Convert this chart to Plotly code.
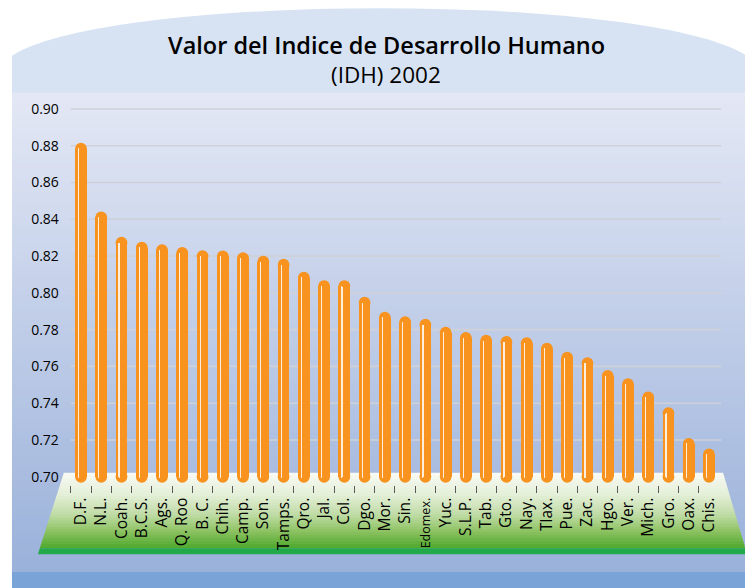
import plotly.graph_objects as go

# ---------------- data ----------------
categories = ["D.F.", "N.L.", "Coah.", "B.C.S.", "Ags.", "Q. Roo", "B. C.", "Chih.",
              "Camp.", "Son.", "Tamps.", "Qro.", "Jal.", "Col.", "Dgo.", "Mor.",
              "Sin.", "Edomex.", "Yuc.", "S.L.P.", "Tab.", "Gto.", "Nay.", "Tlax.",
              "Pue.", "Zac.", "Hgo.", "Ver.", "Mich.", "Gro.", "Oax.", "Chis."]
idh_values = [0.8816, 0.8442, 0.8305, 0.8278, 0.8264, 0.8249, 0.8232, 0.8230,
              0.8221, 0.8201, 0.8185, 0.8114, 0.8069, 0.8069, 0.7978, 0.7897,
              0.7873, 0.7859, 0.7816, 0.7787, 0.7772, 0.7765, 0.7758, 0.7729,
              0.7679, 0.7650, 0.7580, 0.7535, 0.7463, 0.7378, 0.7211, 0.7153]
y_ticks = [0.70, 0.72, 0.74, 0.76, 0.78, 0.80, 0.82, 0.84, 0.86, 0.88, 0.90]
title_main = "Valor del Indice de Desarrollo Humano"
title_sub = "(IDH) 2002"

# ---------------- geometry / style ----------------
W, H = 745, 588
FONT = "Open Sans"
ORANGE = "#f7931e"
Y_RANGE = [0.69568, 0.90362]
X_RANGE = [-0.5, len(categories) - 0.5]
PLOT_TOP, PLOT_BOTTOM = 100, 485
UNITS_PER_PX = (Y_RANGE[1] - Y_RANGE[0]) / (PLOT_BOTTOM - PLOT_TOP)
BAR_W = 0.58
CAT_PX = 650 / len(categories)
CAP_D = BAR_W * CAT_PX            # capsule diameter in px
CAP_R = CAP_D / 2 * UNITS_PER_PX  # capsule radius in y units
CAPSULE_BOTTOM = 0.6968


def X(px):
    return px / W


def Y(py):
    return 1 - py / H


def hex2rgb(h):
    h = h.lstrip("#")
    return [int(h[i:i + 2], 16) for i in (0, 2, 4)]


def interp(stops, t):
    for (t0, c0), (t1, c1) in zip(stops[:-1], stops[1:]):
        if t0 <= t <= t1:
            f = 0 if t1 == t0 else (t - t0) / (t1 - t0)
            a, b = hex2rgb(c0), hex2rgb(c1)
            return "rgb(%d,%d,%d)" % tuple(round(a[i] + (b[i] - a[i]) * f) for i in range(3))
    return stops[-1][1]


shapes = []

# title panel with arched top
path = "M %f,%f C %f,%f %f,%f %f,%f L %f,%f L %f,%f Z" % (
    X(10), Y(53), X(110), Y(-10), X(640), Y(-11), X(745), Y(52), X(745), Y(91), X(10), Y(91))
shapes.append(dict(type="path", xref="paper", yref="paper", path=path,
                   fillcolor="#d7e3f3", line=dict(width=0), layer="below"))

# gradient panel background
bg_stops = [(90, "#e4e8f5"), (573, "#9ab1da")]
y0 = 90
step = 6
while y0 < 573:
    y1 = min(y0 + step, 573)
    col = interp(bg_stops, (y0 + y1) / 2)
    shapes.append(dict(type="rect", xref="paper", yref="paper",
                       x0=X(10), x1=X(746), y0=Y(y0), y1=Y(min(y1 + 1, 573)),
                       fillcolor=col, line=dict(width=0), layer="below"))
    y0 = y1
shapes.append(dict(type="rect", xref="paper", yref="paper",
                   x0=X(10), x1=X(746), y0=Y(573), y1=Y(589),
                   fillcolor="#7aa4d7", line=dict(width=0), layer="below"))

# grid lines (drawn through the y axis scale)
for v in y_ticks[1:]:
    shapes.append(dict(type="line", xref="paper", yref="y",
                       x0=X(69), x1=X(721), y0=v, y1=v,
                       line=dict(color="#cfd1d8", width=1.6), layer="below"))

# floor (trapezoid with green vertical gradient)
ft = 473


def xl(py):
    return 62 - (py - ft) * (26 / 82)


def xr(py):
    return 723 + (py - ft) * (22 / 75)


floor_stops = [(473, "#f8faf4"), (495, "#e4efd8"), (515, "#c0dca6"),
               (532, "#8cc262"), (549, "#4ea82c")]
y0 = ft
step = 3
while y0 < 549:
    y1 = min(y0 + step, 549)
    y1e = min(y1 + 0.8, 549)
    col = interp(floor_stops, (y0 + y1) / 2)
    p = "M %f,%f L %f,%f L %f,%f L %f,%f Z" % (
        X(xl(y0)), Y(y0), X(xr(y0)), Y(y0), X(xr(y1e)), Y(y1e), X(xl(y1e)), Y(y1e))
    shapes.append(dict(type="path", xref="paper", yref="paper", path=p,
                       fillcolor=col, line=dict(width=0), layer="below"))
    y0 = y1
p = "M %f,%f L %f,%f L %f,%f L %f,%f Z" % (
    X(xl(549)), Y(549), X(xr(549)), Y(549), X(xr(555)), Y(555), X(xl(555)), Y(555))
shapes.append(dict(type="path", xref="paper", yref="paper", path=p,
                   fillcolor="#22a94a", line=dict(width=0), layer="below"))

# ---------------- traces ----------------
fig = go.Figure()
n = len(categories)
body_base = CAPSULE_BOTTOM + CAP_R
# capsule body
fig.add_trace(go.Bar(
    x=categories, y=[v - CAP_R - body_base for v in idh_values], base=body_base,
    width=BAR_W, offset=-BAR_W / 2,
    marker=dict(color=ORANGE, line=dict(width=0)),
    hoverinfo="skip", showlegend=False))
# rounded top caps
fig.add_trace(go.Scatter(
    x=categories, y=[v - CAP_R for v in idh_values], mode="markers",
    marker=dict(symbol="circle", size=CAP_D, color=ORANGE, line=dict(width=0)),
    hoverinfo="skip", showlegend=False, cliponaxis=False))
# rounded bottom caps
fig.add_trace(go.Scatter(
    x=categories, y=[body_base] * n, mode="markers",
    marker=dict(symbol="circle", size=CAP_D, color=ORANGE, line=dict(width=0)),
    hoverinfo="skip", showlegend=False, cliponaxis=False))
# white highlight stripe (overlay subplot so it sits above the caps)
hl_base = 0.6992
fig.add_trace(go.Bar(
    x=categories, y=[v - 0.0030 - hl_base for v in idh_values], base=hl_base,
    width=0.06, offset=-0.15,
    marker=dict(color="rgba(255,255,255,0.85)", line=dict(width=0), cornerradius="50%"),
    xaxis="x2", yaxis="y2",
    hoverinfo="skip", showlegend=False))

ticktext = ["<span style='font-size:12.5px'>%s</span>" % c if c == "Edomex." else c
            for c in categories]

fig.update_layout(
    width=W, height=H,
    margin=dict(l=0, r=0, t=0, b=0),
    paper_bgcolor="white",
    plot_bgcolor="rgba(0,0,0,0)",
    barmode="overlay",
    bargap=0,
    font=dict(family=FONT, color="#000000"),
    shapes=shapes,
    xaxis=dict(domain=[X(69.05), X(719.05)], type="category",
               categoryorder="array", categoryarray=categories,
               range=X_RANGE, autorange=False,
               tickvals=categories, ticktext=ticktext,
               tickangle=-90, tickfont=dict(size=15.5, family=FONT, color="#000"),
               ticks="outside", tickson="boundaries", ticklen=7,
               tickcolor="#5a5a5a", tickwidth=1,
               ticklabelstandoff=9,
               showgrid=False, showline=False, zeroline=False,
               fixedrange=True),
    yaxis=dict(domain=[Y(PLOT_BOTTOM), Y(PLOT_TOP)], range=Y_RANGE, autorange=False,
               tickvals=y_ticks, tickformat=".2f",
               tickfont=dict(size=14, family=FONT, color="#000"),
               ticks="", showgrid=False, showline=False, zeroline=False,
               ticklabelstandoff=11, fixedrange=True),
    xaxis2=dict(overlaying="x", type="category",
                categoryorder="array", categoryarray=categories,
                range=X_RANGE, autorange=False, visible=False, fixedrange=True),
    yaxis2=dict(overlaying="y", range=Y_RANGE, autorange=False, visible=False,
                fixedrange=True),
    annotations=[
        dict(text=title_main, xref="paper", yref="paper",
             x=X(386), y=Y(42), xanchor="center", yanchor="middle",
             showarrow=False,
             font=dict(size=23.5, family=FONT, color="#000", weight=600)),
        dict(text=title_sub, xref="paper", yref="paper",
             x=X(385), y=Y(72), xanchor="center", yanchor="middle",
             showarrow=False, font=dict(size=22.5, family=FONT, color="#000")),
    ],
)

fig.write_html("out.html", config={"displayModeBar": False, "staticPlot": True},
               post_script="document.body.style.margin='0px';")
